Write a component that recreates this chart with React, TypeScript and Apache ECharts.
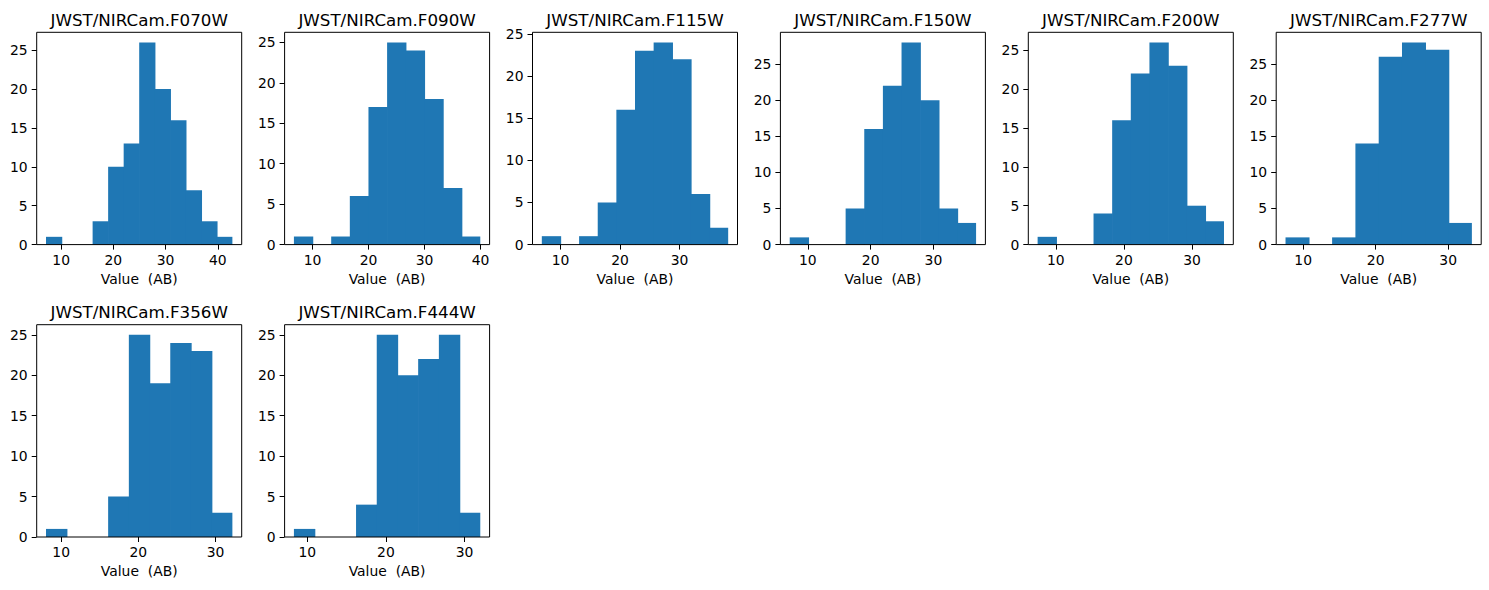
import React, { useEffect, useRef } from "react";
import * as echarts from "echarts";

// ---- data ----
const filters = [
  "JWST/NIRCam.F070W",
  "JWST/NIRCam.F090W",
  "JWST/NIRCam.F115W",
  "JWST/NIRCam.F150W",
  "JWST/NIRCam.F200W",
  "JWST/NIRCam.F277W",
  "JWST/NIRCam.F356W",
  "JWST/NIRCam.F444W",
];
const binMin = [7.1, 6.66, 6.84, 7.11, 7.33, 7.56, 8.04, 8.3];
const binMax = [42.8, 39.94, 38.19, 36.79, 34.69, 33.27, 32.18, 32.0];
const countsF070W = [1, 0, 0, 3, 10, 13, 26, 20, 16, 7, 3, 1];
const countsF090W = [1, 0, 1, 6, 17, 25, 24, 18, 7, 1];
const countsF115W = [1, 0, 1, 5, 16, 23, 24, 22, 6, 2];
const countsF150W = [1, 0, 0, 5, 16, 22, 28, 20, 5, 3];
const countsF200W = [1, 0, 0, 4, 16, 22, 26, 23, 5, 3];
const countsF277W = [1, 0, 1, 14, 26, 28, 27, 3];
const countsF356W = [1, 0, 0, 5, 25, 19, 24, 23, 3];
const countsF444W = [1, 0, 0, 4, 25, 20, 22, 25, 3];
const allCounts = [
  countsF070W,
  countsF090W,
  countsF115W,
  countsF150W,
  countsF200W,
  countsF277W,
  countsF356W,
  countsF444W,
];
const xTicksWide = [10, 20, 30, 40];
const xTicksNarrow = [10, 20, 30];
const xTicks = [xTicksWide, xTicksWide, xTicksNarrow, xTicksNarrow, xTicksNarrow, xTicksNarrow, xTicksNarrow, xTicksNarrow];
const yTicks = [0, 5, 10, 15, 20, 25];
const xLabel = "Value  (AB)";

const FONT = "DejaVu Sans";
const BAR = "#1f77b4";

export default function App() {
  const ref = useRef<HTMLDivElement>(null);
  useEffect(() => {
    if (!ref.current) return;
    const chart = echarts.init(ref.current, null, { renderer: "svg" });
    const left0 = 36.7;
    const step = 247.9;
    const w = 205;
    const h = 212.3;
    const tops = [32.3, 324.7];

    const grids: any[] = [];
    const xAxes: any[] = [];
    const yAxes: any[] = [];
    const series: any[] = [];
    const graphics: any[] = [];

    filters.forEach((name, i) => {
      const row = Math.floor(i / 6);
      const col = i % 6;
      const left = left0 + col * step;
      const top = tops[row];
      grids.push({
        left,
        top,
        width: w,
        height: h,
        show: true,
        borderColor: "#000",
        borderWidth: 1,
        backgroundColor: "transparent",
        z: 3,
      });
      const mn = binMin[i];
      const mx = binMax[i];
      const span = mx - mn;
      const counts = allCounts[i];
      const n = counts.length;
      const bw = span / n;
      const cmax = Math.max(...counts);
      xAxes.push({
        type: "value",
        gridIndex: i,
        min: mn - 0.05 * span,
        max: mx + 0.05 * span,
        splitLine: { show: false },
        axisLine: { show: false, onZero: false },
        axisTick: {
          show: true,
          inside: false,
          length: 5,
          lineStyle: { color: "#000", width: 1 },
          customValues: xTicks[i],
        },
        axisLabel: {
          show: true,
          margin: 8,
          color: "#000",
          fontFamily: FONT,
          fontSize: 13.9,
          customValues: xTicks[i],
        },
        name: xLabel,
        nameLocation: "middle",
        nameGap: 27,
        nameTextStyle: { color: "#000", fontFamily: FONT, fontSize: 13.9 },
      });
      yAxes.push({
        type: "value",
        gridIndex: i,
        min: 0,
        max: cmax * 1.05,
        splitLine: { show: false },
        axisLine: { show: false, onZero: false },
        axisTick: {
          show: true,
          inside: false,
          length: 5,
          lineStyle: { color: "#000", width: 1 },
          customValues: yTicks,
        },
        axisLabel: {
          show: true,
          margin: 9,
          color: "#000",
          fontFamily: FONT,
          fontSize: 13.9,
          customValues: yTicks,
        },
      });
      const data = counts
        .map((c, k) => [mn + k * bw, mn + (k + 1) * bw, c, k === n - 1 ? 0 : 1])
        .filter((d) => d[2] > 0);
      series.push({
        type: "custom",
        xAxisIndex: i,
        yAxisIndex: i,
        z: 1,
        encode: { x: [0, 1], y: 2 },
        data,
        renderItem: (params: any, api: any) => {
          const x0 = api.value(0);
          const x1 = api.value(1);
          const c = api.value(2);
          const extra = api.value(3) ? 0.7 : 0;
          const p0 = api.coord([x0, 0]);
          const p1 = api.coord([x1, c]);
          return {
            type: "rect",
            shape: {
              x: p0[0],
              y: p1[1],
              width: p1[0] - p0[0] + extra,
              height: p0[1] - p1[1],
            },
            style: { fill: BAR },
          };
        },
      });
      graphics.push({
        type: "text",
        x: left + w / 2,
        y: row === 0 ? 19.5 : 311.5,
        style: {
          text: name,
          fill: "#000",
          font: `16.7px '${FONT}'`,
          textAlign: "center",
          textVerticalAlign: "middle",
        },
      });
    });

    chart.setOption({
      animation: false,
      backgroundColor: "#fff",
      grid: grids,
      xAxis: xAxes,
      yAxis: yAxes,
      series,
      graphic: graphics,
    });
    return () => chart.dispose();
  }, []);
  return (
    <div
      ref={ref}
      style={{ position: "fixed", left: 0, top: 0, width: 1489, height: 590 }}
    />
  );
}
